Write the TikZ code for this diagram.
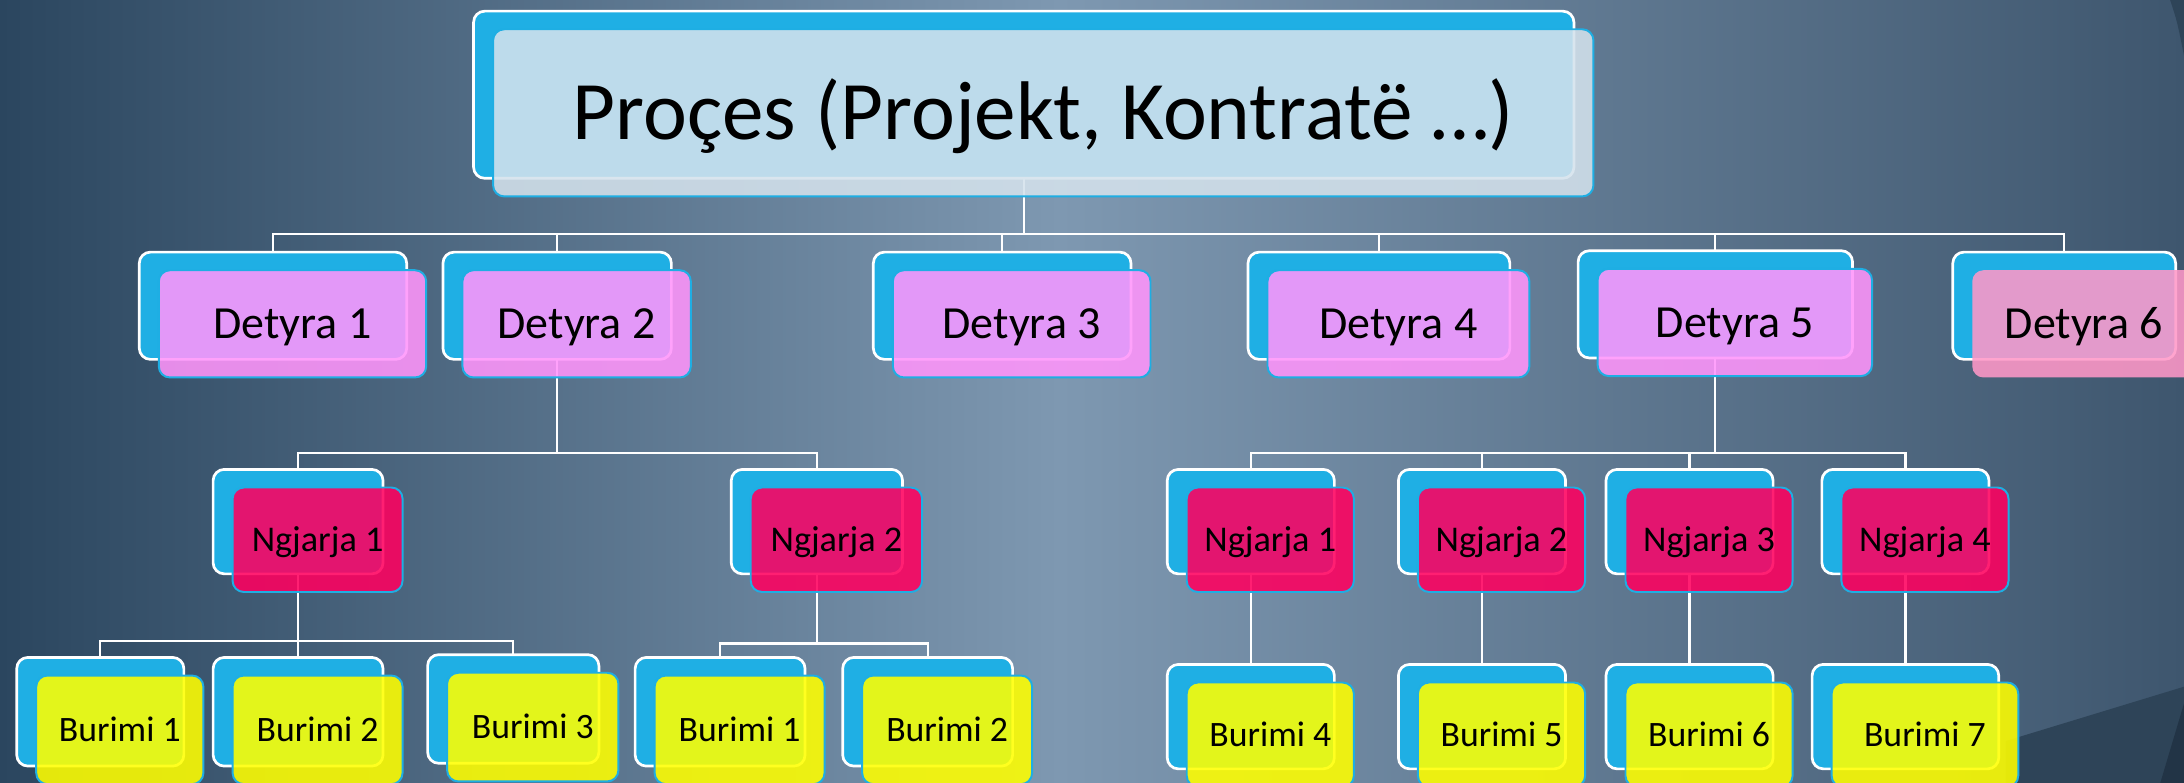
\documentclass[tikz,border=0pt]{standalone}
\usepackage{fontspec}
\setmainfont{Carlito}
\definecolor{backc}{RGB}{31,175,228}
\definecolor{edgec}{RGB}{30,174,227}
\definecolor{detf}{RGB}{255,149,251}
\definecolor{ngjf}{RGB}{255,0,95}
\definecolor{burf}{RGB}{255,255,0}
\definecolor{dsixf}{RGB}{255,152,200}
\definecolor{topf}{RGB}{212,226,236}
\definecolor{bgA}{RGB}{43,70,95}
\definecolor{bgB}{RGB}{126,152,177}
\definecolor{bgC}{RGB}{62,86,110}
\definecolor{bgD}{RGB}{46,68,88}
\definecolor{bgE}{RGB}{34,52,70}
\pgfdeclarelayer{bg}
\pgfdeclarelayer{lines}
\pgfsetlayers{bg,lines,main}
\tikzset{
  backbox/.style={draw=white, line width=1.1pt, fill=backc, rounded corners=0.16cm,
    inner sep=0pt, outer sep=0pt},
  frontbox/.style={draw=edgec, line width=0.8pt, fill opacity=0.88, text opacity=1,
    rounded corners=0.16cm, inner sep=0pt, outer sep=0pt, text=black, text depth=0pt},
  topbox/.style={frontbox, fill=topf, font=\fontsize{34}{40}\selectfont, text height=21.9pt},
  detbox/.style={frontbox, fill=detf, font=\fontsize{18.8}{22}\selectfont, text height=12.1pt},
  dsixbox/.style={frontbox, draw=none, fill=dsixf, font=\fontsize{18.8}{22}\selectfont, text height=12.1pt},
  ngjbox/.style={frontbox, fill=ngjf, font=\fontsize{14.8}{18}\selectfont, text height=9.5pt},
  burbox/.style={frontbox, fill=burf, font=\fontsize{14.6}{17}\selectfont, text height=9.4pt},
  wire/.style={draw=white, line width=0.9pt},
}
\newcommand\boxpair[7]{%
  \node[backbox, minimum width={(#4-#2)*0.02cm}, minimum height={(#5-#3)*0.02cm}]
    (#1b) at ({(#2+#4)/2},{(#3+#5)/2}) {};
  \node[#6, minimum width={(#4-#2)*0.02cm}, minimum height={(#5-#3)*0.02cm}]
    (#1) at ({(#2+#4)/2+14},{(#3+#5)/2+13}) {#7};
}
\begin{document}
\begin{tikzpicture}[x=0.02cm,y=-0.02cm]
\useasboundingbox (0,0) rectangle (1568,562);
\begin{pgfonlayer}{bg}
  \shade[left color=bgA, right color=bgB] (0,0) rectangle (761,562);
  \shade[left color=bgB, right color=bgC] (760,0) rectangle (1568,562);
  \fill[bgD] (1440,532) -- (1568,493) -- (1568,562) -- (1440,562) -- cycle;
  \fill[bgE] (1551,562) -- (1568,505) -- (1568,562) -- cycle;
  \fill[bgD] (1558,0) .. controls (1563,15) .. (1568,40) -- (1568,0) -- cycle;
\end{pgfonlayer}
\clip (0,0) rectangle (1568,562);

\boxpair{top}{340}{8}{1130}{128}{topbox}{Proçes (Projekt, Kontratë …)}

\boxpair{d1}{100}{181}{292}{258}{detbox}{Detyra 1}
\boxpair{d2}{318}{181}{482}{258}{detbox}{Detyra 2}
\boxpair{d3}{627}{181}{812}{258}{detbox}{Detyra 3}
\boxpair{d4}{896}{181}{1084}{258}{detbox}{Detyra 4}
\boxpair{d5}{1133}{180}{1330}{257}{detbox}{Detyra 5}
\boxpair{d6}{1402}{181}{1562}{258}{dsixbox}{Detyra 6}

\boxpair{n1}{153}{337}{275}{412}{ngjbox}{Ngjarja 1}
\boxpair{n2}{525}{337}{648}{412}{ngjbox}{Ngjarja 2}
\boxpair{m1}{838}{337}{958}{412}{ngjbox}{Ngjarja 1}
\boxpair{m2}{1004}{337}{1124}{412}{ngjbox}{Ngjarja 2}
\boxpair{m3}{1153}{337}{1273}{412}{ngjbox}{Ngjarja 3}
\boxpair{m4}{1308}{337}{1428}{412}{ngjbox}{Ngjarja 4}

\boxpair{b11}{12}{472}{132}{550}{burbox}{Burimi 1}
\boxpair{b12}{153}{472}{275}{550}{burbox}{Burimi 2}
\boxpair{b13}{307}{470}{430}{548}{burbox}{Burimi 3}
\boxpair{b21}{456}{472}{578}{550}{burbox}{Burimi 1}
\boxpair{b22}{605}{472}{727}{550}{burbox}{Burimi 2}
\boxpair{c4}{838}{477}{958}{552}{burbox}{Burimi 4}
\boxpair{c5}{1004}{477}{1124}{552}{burbox}{Burimi 5}
\boxpair{c6}{1153}{477}{1273}{552}{burbox}{Burimi 6}
\boxpair{c7}{1301}{477}{1435}{552}{burbox}{Burimi 7}

\coordinate (bus0) at (735,168);
\coordinate (j2) at (400,325);
\coordinate (j5) at (1231.5,325);
\coordinate (k1) at (214,460);
\coordinate (k2) at (586.5,462);

\begin{pgfonlayer}{lines}
  \foreach \d in {d1,d2,d3,d4,d5,d6}
    \draw[wire] (topb.south) -- (bus0) -| (\d b.north);
  \foreach \n in {n1,n2}
    \draw[wire] (d2b.south) -- (j2) -| (\n b.north);
  \foreach \n in {m1,m2,m3,m4}
    \draw[wire] (d5b.south) -- (j5) -| (\n b.north);
  \foreach \b in {b11,b12,b13}
    \draw[wire] (n1b.south) -- (k1) -| (\b b.north);
  \foreach \b in {b21,b22}
    \draw[wire] (n2b.south) -- (k2) -| (\b b.north);
  \draw[wire] (m1b.south) -- (c4b.north);
  \draw[wire] (m2b.south) -- (c5b.north);
  \draw[wire] (m3b.south) -- (c6b.north);
  \draw[wire] (m4b.south) -- (c7b.north);
\end{pgfonlayer}
\end{tikzpicture}
\end{document}
